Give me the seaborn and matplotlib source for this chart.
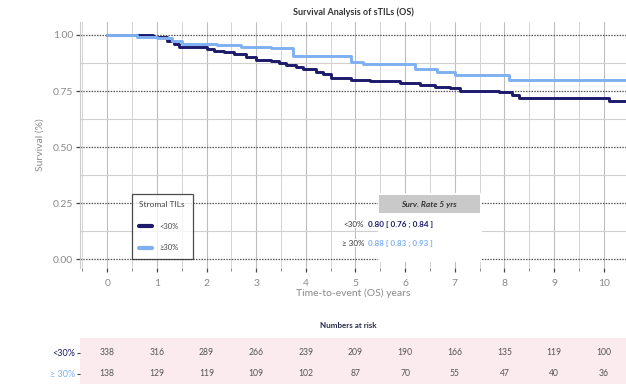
import numpy as np
import pandas as pd
import seaborn as sns
import matplotlib
matplotlib.use("Agg")
import matplotlib.pyplot as plt
from matplotlib.patches import Rectangle
from matplotlib.ticker import MultipleLocator
from matplotlib.lines import Line2D

# ---------------- data ----------------
groups = ["<30%", "≥30%"]
low_times = [0, 0.45, 0.93, 1.2, 1.35, 1.45, 2.0, 2.15, 2.35, 2.55, 2.8, 3.0, 3.3, 3.45, 3.6,
             3.8, 3.95, 4.2, 4.35, 4.5, 4.9, 5.3, 5.9, 6.3, 6.6, 6.9, 7.1, 7.9, 8.15, 8.3, 10.1, 10.45]
low_surv = [1.0, 0.998, 0.99, 0.975, 0.96, 0.945, 0.938, 0.93, 0.922, 0.915, 0.9, 0.89, 0.885, 0.877, 0.865,
            0.857, 0.85, 0.835, 0.825, 0.81, 0.80, 0.795, 0.785, 0.778, 0.77, 0.762, 0.752, 0.745, 0.73, 0.72, 0.705, 0.705]
high_times = [0, 0.6, 1.0, 1.3, 1.5, 2.2, 2.7, 3.3, 3.75, 4.9, 5.15, 6.2, 6.65, 7.0, 8.1, 10.45]
high_surv = [1.0, 0.99, 0.985, 0.972, 0.96, 0.955, 0.948, 0.94, 0.905, 0.88, 0.87, 0.85, 0.835, 0.82, 0.80, 0.80]

risk_times = [0, 1, 2, 3, 4, 5, 6, 7, 8, 9, 10]
risk_low = [338, 316, 289, 266, 239, 209, 190, 166, 135, 119, 100]
risk_high = [138, 129, 119, 109, 102, 87, 70, 55, 47, 40, 36]

rate_labels = ["<30%", "≥ 30%"]
rate_texts = ["0.80 [ 0.76 ; 0.84 ]", "0.88 [ 0.83 ; 0.93 ]"]

colors = {"<30%": "#1c1a6b", "≥30%": "#7fb0f2"}

df = pd.concat([
    pd.DataFrame({"time": low_times, "surv": low_surv, "group": groups[0]}),
    pd.DataFrame({"time": high_times, "surv": high_surv, "group": groups[1]}),
])

# ---------------- style ----------------
sns.set_theme(style="white")
plt.rcParams["font.family"] = ["Lato", "DejaVu Sans"]

fig = plt.figure(figsize=(6.26, 3.84), dpi=100)
ax = fig.add_axes([80 / 626, 1 - 268 / 384, 546 / 626, 246 / 384])

# grid
ax.set_xlim(-0.55, 10.45)
ax.set_ylim(-0.04, 1.058)
ax.xaxis.set_major_locator(MultipleLocator(1))
ax.xaxis.set_minor_locator(MultipleLocator(0.5))
ax.yaxis.set_major_locator(MultipleLocator(0.25))
ax.yaxis.set_minor_locator(MultipleLocator(0.125))
ax.grid(which="major", axis="x", color="#bdbdbd", lw=0.8, zorder=0)
ax.grid(which="minor", axis="x", color="#d4d4d4", lw=0.7, zorder=0)
ax.grid(which="major", axis="y", color="#555555", lw=0.9, ls=(0, (1.2, 1.0)), zorder=0)
ax.grid(which="minor", axis="y", color="#d0d0d0", lw=0.8, zorder=0)
ax.set_axisbelow(True)

sns.lineplot(data=df, x="time", y="surv", hue="group", palette=colors, estimator=None,
             drawstyle="steps-post", linewidth=2.1, ax=ax, zorder=3, legend=False)

for sp in ["top", "right", "bottom"]:
    ax.spines[sp].set_visible(False)
ax.spines["left"].set_color("#cccccc")
ax.spines["left"].set_linewidth(0.8)

ax.set_yticks([0, 0.25, 0.5, 0.75, 1.0])
ax.set_yticklabels(["0.00", "0.25", "0.50", "0.75", "1.00"])
ax.tick_params(axis="both", which="major", direction="out", length=3, width=0.9,
               color="#444444", labelcolor="#8a8a8a", labelsize=7.5, pad=2, left=True, bottom=True)
ax.tick_params(axis="x", which="minor", direction="out", length=2.5, width=0.7, color="#888888", bottom=True)
ax.tick_params(axis="x", which="major", pad=5)
ax.set_xlabel("Time-to-event (OS) years", color="#8a8a8a", fontsize=7.5, labelpad=0)
ax.set_ylabel("Survival (%)", color="#8a8a8a", fontsize=7.5, labelpad=6)
fig.text(353 / 626, 1 - 12 / 384, "Survival Analysis of sTILs (OS)", ha="center", va="center",
         fontsize=6.5, fontweight="bold", color="#333333")

# legend
handles = [Line2D([], [], color=colors[g], lw=3) for g in groups]
leg = ax.legend(handles, ["<30%", "≥30%"], title="Stromal TILs", loc="lower left",
                bbox_to_anchor=(0.092, 0.03), frameon=True, fancybox=False, fontsize=5.5,
                title_fontsize=6, handlelength=1.6, handletextpad=1.0, borderpad=1.0,
                labelspacing=1.9, alignment="left", borderaxespad=0.2)
leg.get_frame().set_edgecolor("#222222")
leg.get_frame().set_linewidth(0.9)
for t in leg.get_texts():
    t.set_color("#444444")
leg.get_title().set_color("#444444")

# 5-yr survival table
def px2data(px, py):
    return (px - 107.5) / 49.6, 1 - (py - 35) / 224

x0, y0 = px2data(378, 262)
x1, y1 = px2data(482, 193)
ax.add_patch(Rectangle((x0, y0), x1 - x0, y1 - y0, facecolor="white", edgecolor="none", zorder=4))
hx0, hy0 = px2data(379, 213)
hx1, hy1 = px2data(480, 195)
ax.add_patch(Rectangle((hx0, hy0), hx1 - hx0, hy1 - hy0, facecolor="#c9c9c9", edgecolor="none", zorder=5))
hx, hy = px2data(429, 204)
ax.text(hx, hy, "Surv. Rate 5 yrs", ha="center", va="center", fontsize=6, fontstyle="italic",
        fontweight="bold", color="#333333", zorder=6)
for i, (lab, txt) in enumerate(zip(rate_labels, rate_texts)):
    lx, ly = px2data(364, 224 + 19 * i)
    ax.text(lx, ly, lab, ha="right", va="center", fontsize=5.8, color="#333333", zorder=6,
            bbox=dict(facecolor="white", edgecolor="none", pad=0.5))
    tx, ty = px2data(368, 224 + 19 * i)
    ax.text(tx, ty, txt, ha="left", va="center", fontsize=5.8, fontweight="bold",
            color=colors[groups[i]], zorder=6)

# risk table
rax = fig.add_axes([80 / 626, 0, 546 / 626, 46 / 384])
rax.set_facecolor("#fcebee")
rax.set_xlim(-0.55, 10.45)
rax.set_ylim(-0.5, 1.7)
for sp in rax.spines.values():
    sp.set_visible(False)
rax.set_xticks([])
rax.set_yticks([1, 0])
rax.set_yticklabels(["<30%", "≥ 30%"], fontsize=6.5)
rax.tick_params(axis="y", length=2.5, width=0.8, color="#444444", pad=1, left=True)
for lab, g in zip(rax.get_yticklabels(), groups):
    lab.set_color(colors[g])
for t, a, b in zip(risk_times, risk_low, risk_high):
    rax.text(t, 1, str(a), ha="center", va="center", fontsize=6.2, color="#555555")
    rax.text(t, 0, str(b), ha="center", va="center", fontsize=6.2, color="#555555")
fig.text(348 / 626, 1 - 325 / 384, "Numbers at risk", ha="center", va="center",
         fontsize=5.8, fontweight="bold", color="#2a2a4a")

fig.savefig("out.png", dpi=100)
